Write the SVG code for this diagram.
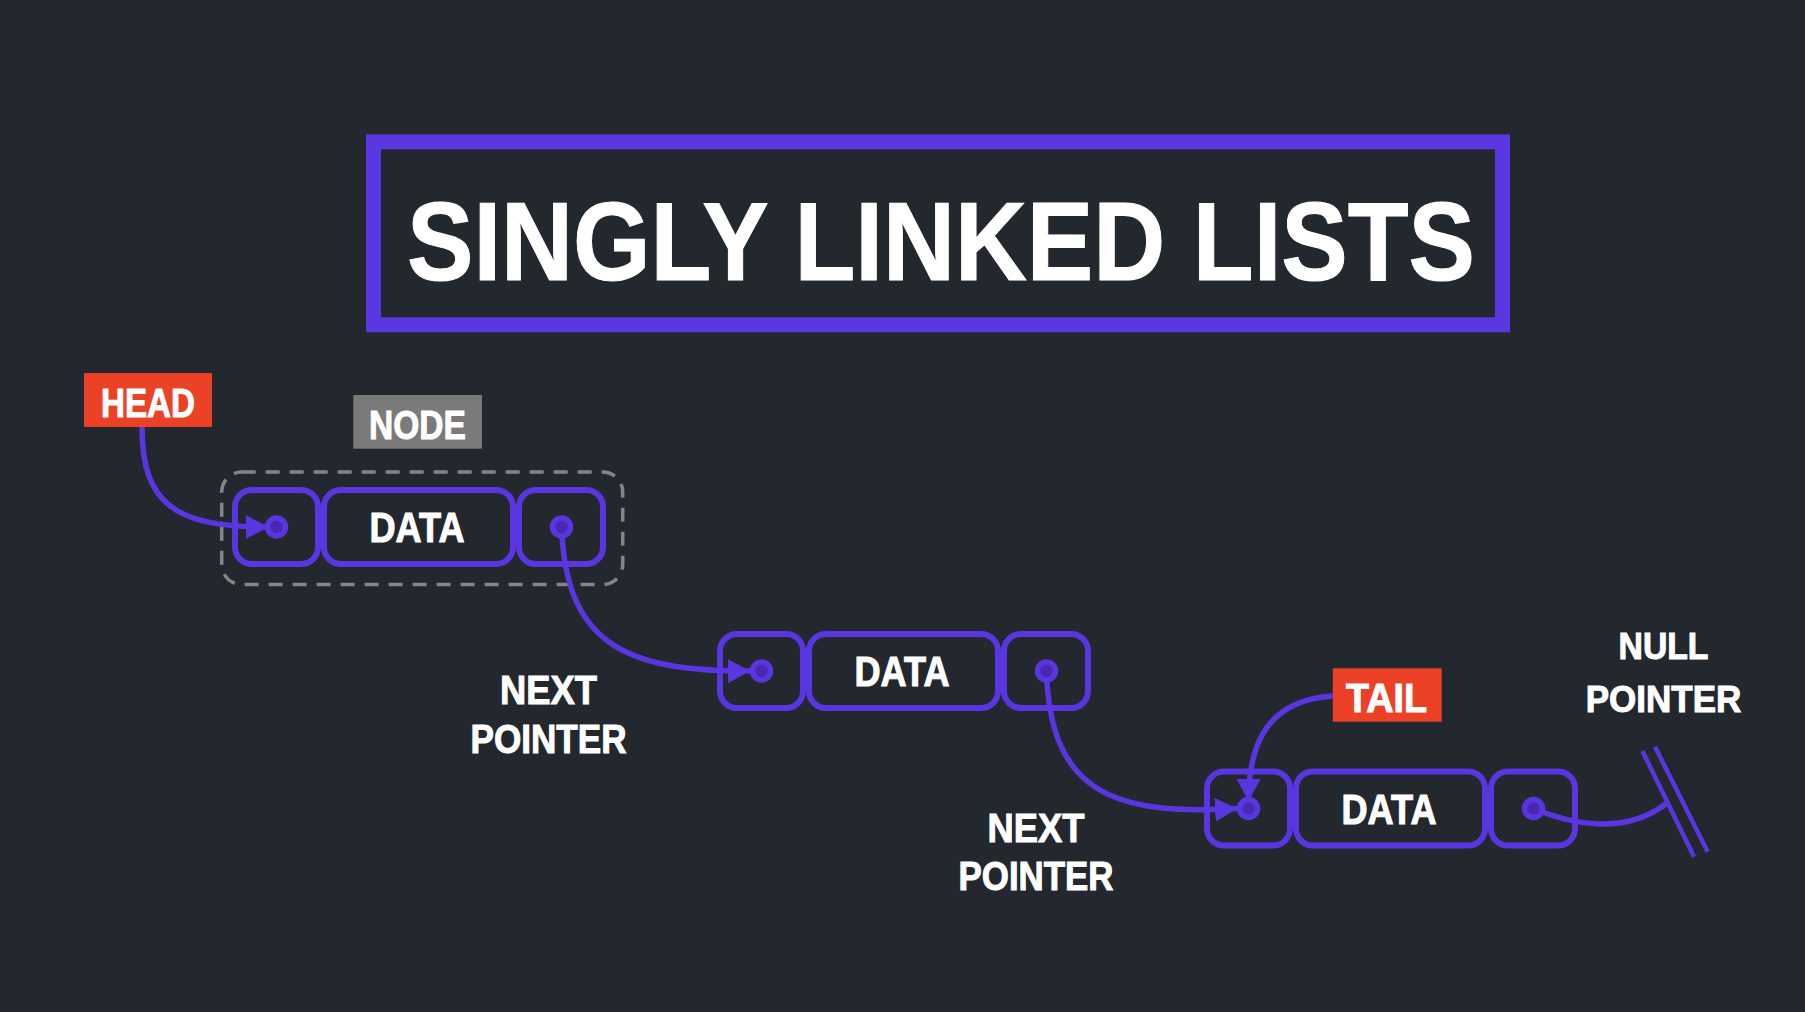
<svg xmlns="http://www.w3.org/2000/svg" width="1805" height="1012" viewBox="0 0 1805 1012">
<style>
  .bg { fill: #23272e; }
  .box { fill: none; stroke: #5a36e0; stroke-width: 6; }
  .dot { fill: #4a28b2; stroke: #5a36e0; stroke-width: 5.5; }
  .wire { fill: none; stroke: #5a36e0; stroke-width: 5.5; }
  .t { font-family: "Liberation Sans", Arial, sans-serif; font-weight: bold; fill: #ffffff; stroke: #ffffff; stroke-width: 1; text-anchor: middle; }
  .data { font-size: 42px; }
  .lbl { font-size: 41px; }
  .tag { font-size: 40px; }
</style>
<defs>
  <marker id="arrow" markerUnits="userSpaceOnUse" markerWidth="26" markerHeight="27" refX="22" refY="12" orient="auto">
    <path d="M0,0 L22,12 L0,24 z" fill="#5a36e0"/>
  </marker>
  <g id="nodeShape">
    <rect class="box" x="3" y="3" width="83" height="74" rx="17"/>
    <rect class="box" x="92" y="3" width="189" height="74" rx="17"/>
    <rect class="box" x="287" y="3" width="84" height="74" rx="17"/>
    <text class="t data" x="185" y="55" textLength="95" lengthAdjust="spacingAndGlyphs">DATA</text>
  </g>
</defs>
<rect class="bg" x="0" y="0" width="1805" height="1012"/>

<g id="title">
  <rect x="373.5" y="141.8" width="1129" height="183" fill="none" stroke="#5b37e1" stroke-width="15"/>
  <text class="t" x="941" y="280" font-size="112" stroke-width="3" textLength="1068" lengthAdjust="spacingAndGlyphs">SINGLY LINKED LISTS</text>
</g>

<g id="node-frame">
  <rect x="221.7" y="472" width="401" height="112.5" rx="20" fill="none" stroke="#858585" stroke-width="3.5" stroke-dasharray="14 10"/>
</g>

<g id="head">
  <rect x="84" y="373" width="128" height="54" fill="#eb4126"/>
  <text class="t tag" x="148" y="416.7" textLength="94" lengthAdjust="spacingAndGlyphs">HEAD</text>
</g>

<g id="node-label">
  <rect x="353.3" y="395" width="128.7" height="53.7" fill="#7a7a7a"/>
  <text class="t lbl" x="417.5" y="439.3" textLength="97" lengthAdjust="spacingAndGlyphs">NODE</text>
</g>

<g id="tail">
  <rect x="1332.8" y="668.3" width="108.9" height="53.4" fill="#eb4126"/>
  <text class="t tag" x="1386.5" y="711.7" textLength="81" lengthAdjust="spacingAndGlyphs">TAIL</text>
</g>

<g id="node1">
  <use href="#nodeShape" transform="translate(232,487)"/>
</g>
<g id="node2">
  <use href="#nodeShape" transform="translate(717,631)"/>
</g>
<g id="node3">
  <use href="#nodeShape" transform="translate(1204,768.5)"/>
</g>

<g id="connectors">
  <path class="wire" d="M142,427 C142,505 176,527 268,527" marker-end="url(#arrow)"/>
  <path class="wire" d="M561.5,527 C566,640 620,672 750,671" marker-end="url(#arrow)"/>
  <path class="wire" d="M1046.5,671 C1050,790 1110,816 1237,808.5" marker-end="url(#arrow)"/>
  <path class="wire" d="M1333,696 C1270,700 1248.5,740 1248.5,801" marker-end="url(#arrow)"/>
  <path class="wire" d="M1533.5,808.5 C1570,824 1625,836 1667,803"/>
  <line x1="1642.4" y1="751" x2="1694" y2="856.7" stroke="#5a36e0" stroke-width="4.5"/>
  <line x1="1655" y1="746.7" x2="1707.6" y2="851.7" stroke="#5a36e0" stroke-width="4.5"/>
</g>

<g id="dots">
  <circle class="dot" cx="276.5" cy="527" r="9"/>
  <circle class="dot" cx="561.5" cy="527" r="9"/>
  <circle class="dot" cx="761.5" cy="671" r="9"/>
  <circle class="dot" cx="1046.5" cy="671" r="9"/>
  <circle class="dot" cx="1248.5" cy="808.5" r="9"/>
  <circle class="dot" cx="1533.5" cy="808.5" r="9"/>
</g>

<g id="labels">
  <text class="t lbl" x="548.5" y="704" textLength="97" lengthAdjust="spacingAndGlyphs">NEXT</text>
  <text class="t lbl" x="548.5" y="753" textLength="156" lengthAdjust="spacingAndGlyphs">POINTER</text>
  <text class="t lbl" x="1036" y="841.7" textLength="97" lengthAdjust="spacingAndGlyphs">NEXT</text>
  <text class="t lbl" x="1036" y="890" textLength="155" lengthAdjust="spacingAndGlyphs">POINTER</text>
  <text class="t" font-size="37" x="1663.5" y="659.3" textLength="90" lengthAdjust="spacingAndGlyphs">NULL</text>
  <text class="t" font-size="37" x="1663.5" y="711.7" textLength="155.7" lengthAdjust="spacingAndGlyphs">POINTER</text>
</g>
</svg>
